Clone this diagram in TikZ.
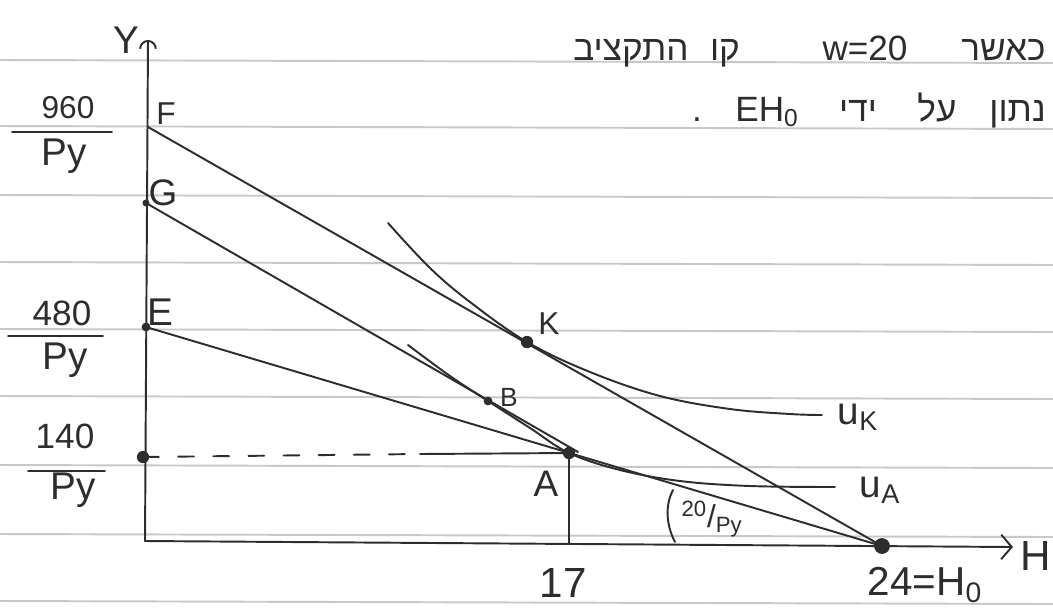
\documentclass[tikz,border=0pt]{standalone}
\usepackage{fontspec}
\setmainfont{Liberation Sans}
\newfontfamily\hebfont[Script=Hebrew]{Liberation Sans}
\TeXXeTstate=1
\usetikzlibrary{arrows.meta}
\definecolor{inkc}{RGB}{45,45,45}
\definecolor{rulec}{RGB}{200,200,200}
\begin{document}
\begin{tikzpicture}[x=0.02cm,y=-0.02cm,
  ink/.style={line width=1.1pt, draw=inkc, line cap=round, line join=round},
  ruled/.style={line width=1.1pt, draw=rulec},
  lbl/.style={text=inkc, inner sep=0pt, font=\fontsize{#1}{#1}\selectfont},
  lbl/.default=20,
  heb/.style={text=inkc, inner sep=0pt, anchor=base, font=\hebfont\fontsize{20}{20}\selectfont},
  ptdot/.style={circle, fill=inkc, inner sep=0pt, minimum size=#1},
  ptdot/.default=7pt,
]
\useasboundingbox (0,0) rectangle (1053,613);
\clip (0,0) rectangle (1053,613);
\fill[white] (0,0) rectangle (1053,613);
% ruled paper
\foreach \yy in {60,126,195,262,329,396,465,534,601}
  \draw[ruled] (0,\yy) -- (1053,\yy+3);

% Hebrew text
\node[heb] (h1a) at (631,60) {\beginR התקציב\endR};
\node[heb] (h1b) at (725,60) {\beginR קו\endR};
\node[heb] (h1c) at (865,60) {w=20};
\node[heb, anchor=base east] (h1d) at (1046,60) {\beginR כאשר\endR};
\node[heb] (h2a) at (697,121) {.};
\node[heb] (h2b) at (767,121) {EH\textsubscript{0}};
\node[heb] (h2c) at (858,121) {\beginR ידי\endR};
\node[heb] (h2d) at (937,121) {\beginR על\endR};
\node[heb, anchor=base east] (h2e) at (1046,121) {\beginR נתון\endR};

% key points
\coordinate (O) at (145,541);
\coordinate (Ytop) at (148,40);
\coordinate (Hend) at (1013,547);
\coordinate (F) at (148,127);
\coordinate (G) at (146,203);
\coordinate (E) at (146,327);
\coordinate (P140) at (143,457);
\coordinate (A) at (569,453);
\coordinate (B) at (488,401);
\coordinate (K) at (527,342);
\coordinate (H0) at (882,546);
\coordinate (Gend) at (578,452);
\coordinate (Dend) at (420,454);
\coordinate (A0) at (569,544);

% axes
\draw[ink, -{Arc Barb[length=5pt,width=10pt]}] (O) -- (Ytop);
\draw[ink, -{Straight Barb[length=6pt,width=14pt]}] (O) -- (Hend);

% budget lines
\draw[ink] (F) -- (H0);
\draw[ink] (G) -- (Gend);
\draw[ink] (E) -- (H0);

% dashed level line and drop line
\draw[ink, dash pattern=on 9pt off 11pt] (P140) -- (Dend);
\draw[ink] (Dend) -- (A);
\draw[ink] (A) -- (A0);

% indifference curves
\draw[ink] plot[smooth, tension=0.6] coordinates {(388,223) (430,268) (470,302) (527,342) (590,372) (660,396) (730,409) (790,414) (822,415)};
\draw[ink] plot[smooth, tension=0.6] coordinates {(408,345) (450,376) (488,401) (530,428) (569,453) (620,470) (680,481) (750,486) (835,487)};

% angle arc
\draw[ink] (673,490) .. controls (665,505) and (666,525) .. (675,542);

% dots
\node[ptdot] (dK) at (K) {};
\node[ptdot=5pt] (dB) at (B) {};
\node[ptdot] (dA) at (A) {};
\node[ptdot=9pt] (dH) at (H0) {};
\node[ptdot=5pt] (dE) at (E) {};
\node[ptdot] (dP) at (P140) {};
\node[ptdot=4pt] (dG) at (G) {};

% axis labels
\node[lbl=22] (lY) at (126,40) {Y};
\node[lbl=24] (lH) at (1036,556) {H};
\node[lbl=24] (l17) at (563,583) {17};
\node[lbl=23] (l24) at (925,585) {24=H\textsubscript{0}};

% point labels
\node[lbl=18] (lF) at (166,114) {F};
\node[lbl=21] (lG) at (163,193) {G};
\node[lbl=22] (lE) at (160,312) {E};
\node[lbl=18] (lK) at (549,324) {K};
\node[lbl=15] (lB) at (509,397) {B};
\node[lbl=21] (lA) at (546,484) {A};
\node[lbl=22] (luK) at (858,417) {u\textsubscript{K}};
\node[lbl=22] (luA) at (880,490) {u\textsubscript{A}};
\node[lbl=18] (lang) at (712,519) {\textsuperscript{20}/\textsubscript{Py}};

% fractions on Y axis
\node[lbl=18] (n960) at (68,108) {960};
\coordinate (b960a) at (12,132); \coordinate (b960b) at (112,132);
\draw[ink] (b960a) -- (b960b);
\node[lbl=22] (d960) at (64,156) {Py};
\node[lbl=20] (n480) at (62,313) {480};
\coordinate (b480a) at (8,336); \coordinate (b480b) at (103,336);
\draw[ink] (b480a) -- (b480b);
\node[lbl=22] (d480) at (65,360) {Py};
\node[lbl=20] (n140) at (65,436) {140};
\coordinate (b140a) at (28,471); \coordinate (b140b) at (105,471);
\draw[ink] (b140a) -- (b140b);
\node[lbl=22] (d140) at (73,490) {Py};
\end{tikzpicture}
\end{document}
